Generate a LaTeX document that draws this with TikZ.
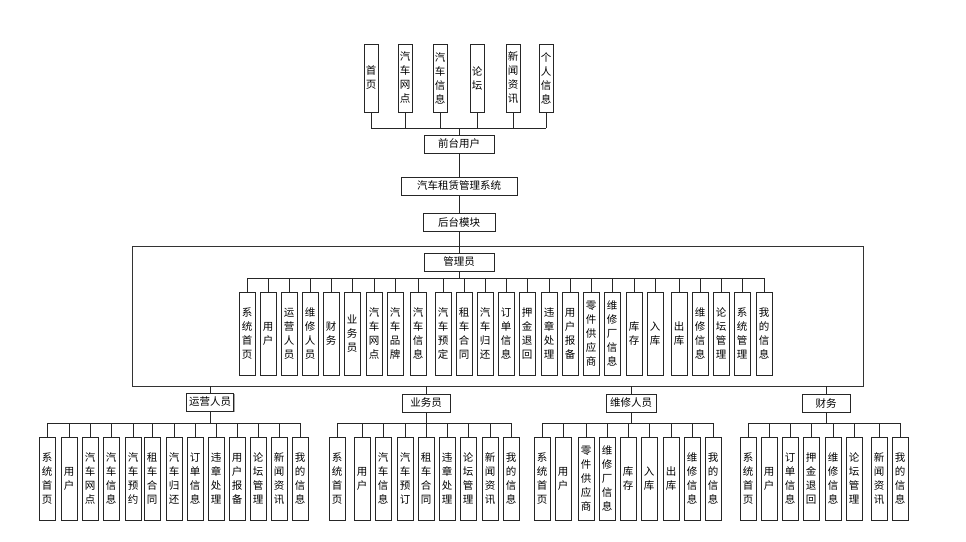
\documentclass[tikz,border=0pt]{standalone}
\usepackage{fontspec}
\setmainfont{Noto Sans CJK SC}
\usetikzlibrary{positioning,shadows}

\tikzset{
  mbox/.style={draw=black!85, fill=white, line width=.8pt, inner sep=0pt,
    font=\fontsize{10.5}{14}\selectfont,
    drop shadow={shadow xshift=1.4pt,shadow yshift=-1.4pt,fill=black!35,opacity=1}},
  hbox/.style={mbox, minimum height=18pt},
  vbox/.style={mbox, minimum width=16pt, minimum height=83pt, align=center},
  link/.style={draw=black!85, line width=.8pt},
}

\begin{document}
\begin{tikzpicture}[x=1pt,y=-1pt]
\useasboundingbox (0,0) rectangle (966,541);

% front end
\node[hbox, minimum width=70pt] (qtyh) at (459,144) {前台用户};
\coordinate (tbus) at (459,128);
\foreach \x/\t [count=\i] in {371/{首\\页}, 405/{汽\\车\\网\\点}, 440/{汽\\车\\信\\息},
  477/{论\\坛}, 513/{新\\闻\\资\\讯}, 546/{个\\人\\信\\息}}
{
  \node[vbox, minimum width=14pt, minimum height=68pt] (t\i) at (\x,78) {\t};
  \draw[link] (t\i.south) -- (t\i.south |- tbus);
}
\draw[link] (t1.south |- tbus) -- (t6.south |- tbus);
\draw[link] (tbus) -- (qtyh.north);

\node[hbox, minimum width=116pt] (xt) at (459,186) {汽车租赁管理系统};
\node[hbox, minimum width=72pt] (htmk) at (459,222) {后台模块};
\draw[link] (qtyh.south) -- (xt.north);
\draw[link] (xt.south) -- (htmk.north);

% back end frame
\node[draw=black!80, line width=.9pt, minimum width=731pt, minimum height=140pt,
  inner sep=0pt] (frame) at (497.5,316) {};
\node[hbox, minimum width=70pt] (gly) at (459,262) {管理员};
\draw[link] (htmk.south) -- (gly.north);

\coordinate (abus) at (459,278);
\draw[link] (gly.south) -- (abus);
\foreach \x/\t [count=\i] in {247/{系\\统\\首\\页}, 268/{用\\户}, 289/{运\\营\\人\\员},
  310/{维\\修\\人\\员}, 331/{财\\务}, 352/{业\\务\\员}, 374/{汽\\车\\网\\点},
  395/{汽\\车\\品\\牌}, 418/{汽\\车\\信\\息}, 443/{汽\\车\\预\\定}, 464/{租\\车\\合\\同},
  485/{汽\\车\\归\\还}, 506/{订\\单\\信\\息}, 527/{押\\金\\退\\回}, 549/{违\\章\\处\\理},
  570/{用\\户\\报\\备}, 591/{零\\件\\供\\应\\商}, 612/{维\\修\\厂\\信\\息}, 634/{库\\存},
  655/{入\\库}, 679/{出\\库}, 700/{维\\修\\信\\息}, 721/{论\\坛\\管\\理},
  742/{系\\统\\管\\理}, 764/{我\\的\\信\\息}}
{
  \node[vbox] (a\i) at (\x,333.5) {\t};
  \draw[link] (a\i.north) -- (a\i.north |- abus);
}
\draw[link] (a1.north |- abus) -- (a25.north |- abus);

% roles
\node[hbox, minimum width=47pt] (yyry) at (210,402) {运营人员};
\node[hbox, minimum width=48pt] (ywy) at (426,403) {业务员};
\node[hbox, minimum width=50pt] (wxry) at (631,403) {维修人员};
\node[hbox, minimum width=48pt] (cw) at (826,403) {财务};
\foreach \r in {yyry,ywy,wxry,cw}
  \draw[link] (\r.north) -- (\r.north |- frame.south);

\coordinate (rbus) at (0,423);
\foreach \g/\lst in {
  yyry/{47/{系\\统\\首\\页}, 69/{用\\户}, 90/{汽\\车\\网\\点}, 111/{汽\\车\\信\\息},
    133/{汽\\车\\预\\约}, 152/{租\\车\\合\\同}, 174/{汽\\车\\归\\还}, 195/{订\\单\\信\\息},
    216/{违\\章\\处\\理}, 237/{用\\户\\报\\备}, 258/{论\\坛\\管\\理}, 279/{新\\闻\\资\\讯},
    300/{我\\的\\信\\息}},
  ywy/{337/{系\\统\\首\\页}, 362/{用\\户}, 383/{汽\\车\\信\\息}, 405/{汽\\车\\预\\订},
    426/{租\\车\\合\\同}, 447/{违\\章\\处\\理}, 468/{论\\坛\\管\\理}, 490/{新\\闻\\资\\讯},
    511/{我\\的\\信\\息}},
  wxry/{542/{系\\统\\首\\页}, 563/{用\\户}, 586/{零\\件\\供\\应\\商}, 607/{维\\修\\厂\\信\\息},
    628/{库\\存}, 649/{入\\库}, 671/{出\\库}, 692/{维\\修\\信\\息}, 713/{我\\的\\信\\息}},
  cw/{748/{系\\统\\首\\页}, 769/{用\\户}, 790/{订\\单\\信\\息}, 811/{押\\金\\退\\回},
    833/{维\\修\\信\\息}, 854/{论\\坛\\管\\理}, 879/{新\\闻\\资\\讯}, 900/{我\\的\\信\\息}}}
{
  \draw[link] (\g.south) -- (\g.south |- rbus);
  \foreach \x/\t [count=\i] in \lst
  {
    \node[vbox] (\g\i) at (\x,478.5) {\t};
    \draw[link] (\g\i.north) -- (\g\i.north |- rbus) -- (\g.south |- rbus);
  }
}
\end{tikzpicture}
\end{document}
